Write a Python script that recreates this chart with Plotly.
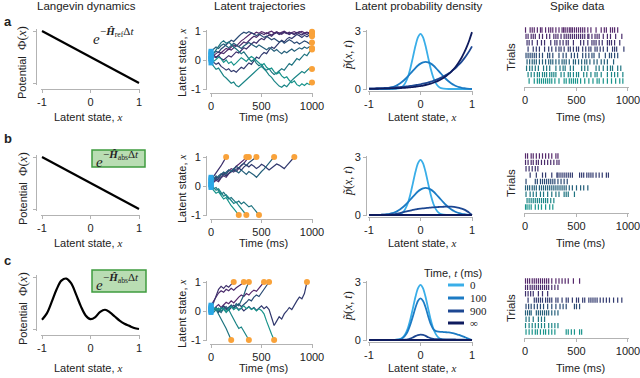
import plotly.graph_objects as go

W, H = 640, 378
ROW_OFF = [0, 126, 251]

# ---------------- data ----------------
TRAJ_DT = 25  # ms between trajectory samples

TRAJ_REF = [
    [0.20, 0.15, 0.22, 0.28, 0.25, 0.33, 0.40, 0.36, 0.45, 0.52,
     0.48, 0.58, 0.66, 0.72, 0.80, 0.86, 0.93, 0.90, 0.96, 0.92,
     0.98, 0.95, 0.90, 0.96, 0.99, 0.93, 0.97, 0.92, 0.96, 0.99,
     0.94, 0.90, 0.95, 0.98, 0.93, 0.97, 0.99, 0.94, 0.96, 0.92, 0.97],
    [0.05, 0.12, 0.08, 0.18, 0.25, 0.22, 0.30, 0.38, 0.34, 0.42,
     0.50, 0.46, 0.55, 0.62, 0.58, 0.68, 0.75, 0.82, 0.78, 0.86,
     0.92, 0.88, 0.94, 0.90, 0.86, 0.92, 0.97, 0.93, 0.89, 0.95,
     0.91, 0.96, 0.92, 0.88, 0.94, 0.98, 0.93, 0.90, 0.95, 0.92, 0.95],
    [0.25, 0.18, 0.10, 0.15, 0.05, 0.00, 0.08, 0.15, 0.10, 0.20,
     0.28, 0.24, 0.35, 0.42, 0.38, 0.48, 0.55, 0.62, 0.58, 0.68,
     0.74, 0.70, 0.80, 0.86, 0.82, 0.90, 0.94, 0.88, 0.92, 0.97,
     0.92, 0.88, 0.93, 0.89, 0.95, 0.91, 0.86, 0.92, 0.88, 0.93, 0.90],
    [0.00, -0.08, -0.15, -0.10, -0.22, -0.28, -0.35, -0.30, -0.40, -0.36,
     -0.42, -0.33, -0.25, -0.30, -0.18, -0.10, -0.15, 0.00, 0.10, 0.05,
     0.18, 0.26, 0.22, 0.35, 0.45, 0.40, 0.52, 0.60, 0.68, 0.62,
     0.72, 0.78, 0.74, 0.82, 0.88, 0.84, 0.78, 0.85, 0.80, 0.86, 0.82],
    [0.15, 0.22, 0.30, 0.26, 0.38, 0.45, 0.52, 0.60, 0.68, 0.64,
     0.75, 0.82, 0.90, 0.96, 0.92, 0.98, 0.94, 0.88, 0.84, 0.90,
     0.85, 0.78, 0.82, 0.76, 0.70, 0.74, 0.68, 0.62, 0.66, 0.58,
     0.64, 0.70, 0.65, 0.58, 0.62, 0.55, 0.60, 0.66, 0.62, 0.56, 0.60],
    [0.30, 0.38, 0.45, 0.40, 0.50, 0.55, 0.48, 0.42, 0.50, 0.58,
     0.52, 0.46, 0.40, 0.48, 0.55, 0.60, 0.54, 0.50, 0.44, 0.52,
     0.46, 0.40, 0.35, 0.42, 0.38, 0.30, 0.36, 0.28, 0.22, 0.30,
     0.25, 0.32, 0.38, 0.30, 0.35, 0.42, 0.38, 0.45, 0.40, 0.46, 0.41],
    [0.10, 0.22, 0.35, 0.48, 0.60, 0.66, 0.58, 0.62, 0.52, 0.45,
     0.38, 0.30, 0.22, 0.28, 0.15, 0.05, -0.05, 0.02, -0.12, -0.20,
     -0.15, -0.28, -0.35, -0.30, -0.42, -0.50, -0.45, -0.38, -0.30, -0.35,
     -0.22, -0.12, -0.18, -0.05, 0.05, 0.00, 0.12, 0.20, 0.15, 0.28, 0.36],
    [-0.10, -0.20, -0.32, -0.28, -0.42, -0.55, -0.62, -0.70, -0.80, -0.76,
     -0.88, -0.92, -0.84, -0.75, -0.68, -0.58, -0.50, -0.42, -0.35, -0.28,
     -0.22, -0.30, -0.40, -0.52, -0.60, -0.72, -0.80, -0.90, -0.94, -0.86,
     -0.92, -0.80, -0.70, -0.62, -0.55, -0.48, -0.40, -0.45, -0.36, -0.28, -0.31],
    [0.05, -0.05, 0.02, 0.10, 0.04, -0.08, 0.00, -0.12, -0.06, -0.18,
     -0.10, 0.00, 0.08, 0.02, -0.05, 0.05, 0.12, 0.06, -0.02, -0.10,
     -0.18, -0.12, -0.25, -0.32, -0.28, -0.40, -0.48, -0.42, -0.55, -0.62,
     -0.58, -0.70, -0.78, -0.72, -0.85, -0.90, -0.82, -0.88, -0.80, -0.85, -0.78],
]

TRAJ_ABS_LIN = [
    [0.15, 0.22, 0.30, 0.26, 0.38, 0.45, 0.40, 0.52, 0.60, 0.56, 0.68, 0.75, 0.82, 0.90, 1.0],
    [0.05, 0.12, 0.20, 0.15, 0.28, 0.35, 0.30, 0.42, 0.48, 0.55, 0.50, 0.62, 0.70, 0.78, 0.88, 1.0],
    [0.20, 0.32, 0.45, 0.58, 0.70, 0.85, 1.0],
    [0.10, 0.18, 0.25, 0.20, 0.32, 0.40, 0.35, 0.45, 0.52, 0.48,
     0.58, 0.62, 0.55, 0.65, 0.72, 0.66, 0.74, 0.68, 0.60, 0.66,
     0.75, 0.70, 0.64, 0.55, 0.62, 0.70, 0.76, 0.72, 0.65, 0.60,
     0.70, 0.80, 0.90, 1.0],
    [0.25, 0.30, 0.22, 0.35, 0.42, 0.38, 0.48, 0.55, 0.50, 0.60,
     0.68, 0.62, 0.72, 0.78, 0.70, 0.80, 0.86, 0.92, 1.0],
    [0.30, 0.22, 0.35, 0.28, 0.40, 0.48, 0.42, 0.55, 0.50, 0.60,
     0.52, 0.45, 0.55, 0.48, 0.40, 0.50, 0.45, 0.38, 0.30, 0.42,
     0.50, 0.58, 0.70, 0.80, 0.90, 1.0],
    [0.00, -0.10, -0.05, -0.18, -0.28, -0.22, -0.35, -0.45, -0.40, -0.50,
     -0.58, -0.52, -0.62, -0.55, -0.65, -0.72, -0.68, -0.80, -0.88, -1.0],
    [0.05, -0.05, -0.15, -0.10, -0.25, -0.35, -0.30, -0.42, -0.50, -0.60,
     -0.55, -0.68, -0.78, -0.88, -1.0],
    [-0.05, -0.15, -0.25, -0.20, -0.35, -0.45, -0.40, -0.55, -0.68, -0.78, -0.90, -1.0],
]

TRAJ_ABS_WELL = [
    [0.10, 0.05, 0.15, 0.22, 0.12, 0.20, 0.30, 0.25, 0.35, 0.28,
     0.40, 0.48, 0.55, 0.50, 0.60, 0.55, 0.65, 0.72, 0.68, 0.80, 0.90, 1.0],
    [0.20, 0.35, 0.50, 0.62, 0.70, 0.65, 0.75, 0.70, 0.78, 0.72, 0.80, 0.85, 0.92, 1.0],
    [0.05, 0.30, 0.55, 0.75, 0.85, 0.78, 0.88, 0.82, 0.92, 1.0],
    [0.15, 0.05, 0.12, 0.00, 0.08, 0.18, 0.10, 0.02, 0.12, 0.20,
     0.14, 0.05, 0.10, 0.00, 0.08, 0.15, 0.06, 0.12, 0.02, 0.10,
     0.18, 0.08, 0.15, 0.05, -0.20, -0.50, -0.35, -0.20, -0.28, -0.10,
     0.00, 0.12, 0.05, 0.22, 0.35, 0.48, 0.42, 0.60, 1.0],
    [0.00, 0.10, 0.05, -0.05, 0.08, 0.15, 0.05, 0.12, 0.20, 0.10,
     0.18, 0.25, 0.15, 0.22, 0.30, 0.40, 0.35, 0.48, 0.55, 0.50,
     0.62, 0.75, 0.88, 1.0],
    [0.10, 0.02, 0.12, 0.05, -0.05, 0.08, 0.15, 0.05, 0.20, 0.10,
     0.25, 0.18, 0.35, 0.55, 0.80, 1.0],
    [0.00, -0.05, 0.05, -0.10, -0.25, -0.45, -0.60, -0.80, -1.0],
    [0.05, 0.12, 0.02, 0.10, 0.00, 0.08, -0.05, 0.05, -0.12, -0.30,
     -0.45, -0.60, -0.55, -0.70, -0.85, -1.0],
    [-0.05, 0.05, 0.10, 0.02, 0.12, 0.05, -0.02, 0.08, 0.15, 0.05,
     0.12, 0.02, 0.10, 0.18, 0.08, 0.14, 0.05, 0.10, 0.00, 0.08,
     0.02, -0.10, -0.35, -0.60, -0.80, -1.0],
]

SPIKES_REF = [
    [5, 50, 70, 90, 120, 150, 165, 200, 230, 250, 270, 300, 330, 360, 375, 390, 410, 430,
     445, 460, 480, 500, 520, 540, 560, 580, 610, 640, 690, 740, 770, 790, 830, 850, 870, 900],
    [10, 30, 60, 80, 100, 140, 170, 210, 240, 280, 300, 320, 350, 380, 400, 420, 440, 460,
     480, 500, 520, 540, 560, 580, 610, 620, 650, 680, 700, 720, 760, 800, 830, 880, 940],
    [20, 40, 70, 120, 160, 190, 250, 290, 310, 340, 370, 400, 420, 470, 540, 570, 610, 650,
     670, 690, 720, 750, 800, 820, 840, 870, 920],
    [30, 80, 110, 140, 190, 230, 260, 300, 330, 350, 380, 420, 440, 470, 500, 520, 560, 590,
     620, 640, 680, 700, 730, 760, 800, 850, 870, 890, 960],
    [10, 30, 50, 70, 90, 110, 140, 170, 220, 240, 270, 330, 370, 400, 450, 480, 510, 560,
     590, 620, 650, 670, 720, 780, 820, 840, 870, 900],
    [20, 45, 70, 90, 110, 140, 170, 200, 230, 250, 270, 300, 330, 360, 380, 400, 430, 470,
     490, 520, 550, 580, 600, 630, 670, 700, 740, 770, 800, 860],
    [15, 45, 70, 100, 130, 180, 210, 240, 300, 340, 370, 390, 440, 470, 550, 580, 610, 690,
     720, 760, 800, 830, 850, 900, 930],
    [30, 60, 90, 120, 140, 170, 190, 210, 240, 260, 280, 300, 350, 380, 420, 440, 470, 500,
     520, 570, 600, 640, 680, 700, 740, 800, 840, 870, 900, 950],
    [40, 90, 120, 140, 160, 180, 200, 220, 240, 260, 290, 330, 380, 400, 430, 450, 470, 490,
     510, 540, 580, 620, 660, 700, 720, 760, 800, 840, 880, 920, 950],
]

SPIKES_ABS_LIN = [
    [5, 25, 60, 80, 110, 140, 170, 200, 230, 260, 300, 320],
    [5, 30, 60, 80, 110, 130, 160, 190, 220, 250, 280, 310, 330],
    [10, 40, 70, 100, 125],
    [50, 110, 170, 200, 260, 310, 320, 340, 360, 380, 400, 420, 440, 460, 530, 550, 570,
     600, 620, 640, 660, 690, 720, 750, 790, 810],
    [10, 100, 120, 150, 170, 190, 210, 230, 250, 270, 290, 320, 350, 380, 410],
    [5, 25, 45, 70, 90, 110, 140, 160, 180, 200, 220, 240, 260, 280, 300, 320, 340, 360,
     380, 400, 430, 460, 500, 540, 570, 610],
    [10, 50, 80, 110, 150, 180, 220, 260, 300, 330, 380, 400, 420, 480],
    [20, 40, 60, 80, 100, 120, 140, 160, 180, 200, 220, 250, 280],
    [5, 20, 40, 60, 100, 130, 160, 200, 240, 270],
]

SPIKES_ABS_WELL = [
    [5, 25, 45, 70, 90, 110, 130, 150, 170, 190, 210, 230, 260, 300, 330, 360, 390, 420, 470, 530],
    [5, 25, 50, 70, 90, 110, 130, 150, 170, 190, 210, 230, 260, 290, 320],
    [5, 30, 55, 80, 130, 170, 220],
    [30, 90, 110, 130, 150, 170, 200, 220, 240, 260, 300, 320, 360, 400, 420, 460, 500, 520,
     560, 580, 620, 640, 660, 680, 700, 730, 760, 790, 820, 860, 900, 940],
    [10, 35, 60, 90, 120, 150, 180, 220, 260, 300, 340, 370, 400, 480, 500, 530],
    [5, 25, 45, 60, 110, 130, 150, 170, 190, 210, 230, 260, 290, 320],
    [10, 40, 80, 130, 160, 190],
    [5, 40, 70, 100, 130, 160, 190, 230, 260, 290, 320],
    [10, 40, 70, 100, 120, 150, 180, 200, 230, 260, 290, 400, 420, 450, 480, 530, 550],
]

DENS_X = [-1.0, -0.95, -0.9, -0.85, -0.8, -0.75, -0.7, -0.65, -0.6, -0.55,
          -0.5, -0.45, -0.4, -0.35, -0.3, -0.25, -0.2, -0.15, -0.1, -0.05,
          0.0, 0.05, 0.1, 0.15, 0.2, 0.25, 0.3, 0.35, 0.4, 0.45,
          0.5, 0.55, 0.6, 0.65, 0.7, 0.75, 0.8, 0.85, 0.9, 0.95, 1.0]
DENS_T0 = [0, 0, 0, 0, 0, 0, 0, 0, 0, 0,
           0.005, 0.016, 0.048, 0.125, 0.29, 0.58, 1.03, 1.61, 2.21, 2.67,
           2.85, 2.67, 2.21, 1.61, 1.03, 0.58, 0.29, 0.125, 0.048, 0.016,
           0.005, 0, 0, 0, 0, 0, 0, 0, 0, 0, 0]
DENS_T100 = [0.001, 0.001, 0.002, 0.004, 0.008, 0.014, 0.024, 0.039, 0.062, 0.095,
             0.14, 0.203, 0.284, 0.385, 0.505, 0.641, 0.789, 0.94, 1.085, 1.213,
             1.313, 1.378, 1.40, 1.378, 1.313, 1.213, 1.085, 0.94, 0.789, 0.641,
             0.505, 0.385, 0.284, 0.203, 0.14, 0.095, 0.062, 0.039, 0.022, 0.01, 0.0]
DENS_T900_REF = [0.027, 0.030, 0.034, 0.038, 0.042, 0.047, 0.052, 0.058, 0.065, 0.073,
                 0.081, 0.091, 0.101, 0.113, 0.126, 0.141, 0.157, 0.175, 0.196, 0.219,
                 0.244, 0.272, 0.304, 0.339, 0.379, 0.423, 0.472, 0.527, 0.588, 0.657,
                 0.733, 0.818, 0.913, 1.019, 1.138, 1.270, 1.418, 1.583, 1.767, 1.972, 2.203]
DENS_INF_REF = [0.008, 0.009, 0.011, 0.013, 0.015, 0.017, 0.020, 0.023, 0.026, 0.030,
                0.035, 0.041, 0.047, 0.055, 0.064, 0.074, 0.085, 0.099, 0.115, 0.133,
                0.154, 0.178, 0.207, 0.240, 0.278, 0.322, 0.373, 0.433, 0.501, 0.581,
                0.673, 0.780, 0.904, 1.047, 1.214, 1.407, 1.631, 1.890, 2.190, 2.538, 2.941]
DENS_T900_LIN = [0, 0.002, 0.004, 0.006, 0.009, 0.012, 0.016, 0.021, 0.028, 0.038,
                 0.05, 0.072, 0.1, 0.135, 0.17, 0.2, 0.23, 0.26, 0.29, 0.31,
                 0.33, 0.345, 0.36, 0.373, 0.385, 0.395, 0.405, 0.413, 0.42, 0.426,
                 0.43, 0.432, 0.43, 0.42, 0.40, 0.37, 0.33, 0.275, 0.2, 0.11, 0]
DENS_T100_WELL = [0, 0, 0, 0, 0, 0, 0, 0, 0, 0.002,
                  0.005, 0.012, 0.03, 0.09, 0.22, 0.44, 0.78, 1.2, 1.66, 2.02,
                  2.15, 2.02, 1.68, 1.22, 0.82, 0.56, 0.46, 0.43, 0.42, 0.41,
                  0.40, 0.39, 0.37, 0.34, 0.30, 0.26, 0.21, 0.16, 0.10, 0.05, 0]
DENS_T900_WELL = [0, 0, 0, 0, 0, 0, 0, 0, 0, 0,
                  0, 0.001, 0.003, 0.006, 0.012, 0.03, 0.07, 0.13, 0.2, 0.255,
                  0.28, 0.26, 0.21, 0.14, 0.09, 0.06, 0.045, 0.04, 0.038, 0.036,
                  0.034, 0.032, 0.03, 0.027, 0.024, 0.02, 0.016, 0.012, 0.008, 0.004, 0]
FLAT_X = [-1.0, 1.0]
FLAT_ZERO = [0.0, 0.0]

POT_LIN_X = [-1.0, 1.0]
POT_LIN_Y = [1.0, 0.0]
POT_WELL_X = [-1.0, -0.9, -0.8, -0.7, -0.6, -0.5, -0.4, -0.3, -0.2, -0.1, 0.0,
              0.1, 0.2, 0.3, 0.4, 0.5, 0.6, 0.7, 0.8, 0.9, 1.0]
POT_WELL_Y = [0.18, 0.30, 0.52, 0.76, 0.93, 0.97, 0.88, 0.67, 0.44, 0.26, 0.19,
              0.23, 0.33, 0.37, 0.32, 0.24, 0.16, 0.10, 0.06, 0.02, 0.0]

LEGEND_LABELS = ["0", "100", "900", "∞"]

# ---------------- style ----------------
INK = "#222222"
AXIS = "#b3b3b3"
SANS = "Liberation Sans, Arial, sans-serif"
SERIF = "Liberation Serif, Times New Roman, serif"
TRAJ_COLORS = ["#55286b", "#4a2b6b", "#3d306c", "#31396e", "#2a4a74",
               "#245f7a", "#1f7480", "#1b8586", "#19948b"]
DENS_COLORS = ["#3aaee8", "#1c7bc4", "#1d4792", "#0e1b5e"]
START = "#2aa7e6"
END = "#f9a23a"

fig = go.Figure()
axes = {}
notes = []
shapes = []


def px_range(v0, p0, v1, p1, lo, hi):
    k = (p1 - p0) / (v1 - v0)
    return p0 + (lo - v0) * k, p0 + (hi - v0) * k


def set_axes(n, xcal, xr, ycal, yr, xline_y, yline_x, xt, yt, yline=True):
    a, b = px_range(*xcal, *xr)
    c, d = px_range(*ycal, *yr)
    xk = "xaxis" if n == 1 else f"xaxis{n}"
    yk = "yaxis" if n == 1 else f"yaxis{n}"
    base = dict(showgrid=False, zeroline=False, fixedrange=True, automargin=False,
                linecolor=AXIS, linewidth=1, tickcolor=AXIS, ticklen=3,
                ticklabeloverflow="allow",
                tickfont=dict(family=SANS, size=11, color=INK))
    axes[xk] = dict(base, domain=[a / W, b / W], range=xr, anchor="free",
                    position=1 - xline_y / H, showline=True, ticks="outside",
                    tickvals=xt[0], ticktext=xt[1], showticklabels=xt[1] is not None)
    ydom = sorted([1 - c / H, 1 - d / H])
    if yline:
        axes[yk] = dict(base, domain=ydom, range=yr, anchor="free",
                        position=yline_x / W, showline=True, ticks="outside",
                        tickvals=yt[0], ticktext=yt[1], showticklabels=yt[1] is not None)
    else:
        axes[yk] = dict(base, domain=ydom, range=yr, anchor="free",
                        position=yline_x / W, showline=False, ticks="",
                        showticklabels=False)


def note(text, x, y, size=11, angle=0, xanchor="center", family=SANS, **kw):
    notes.append(dict(text=text, x=x / W, y=1 - y / H, xref="paper", yref="paper",
                      showarrow=False, xanchor=xanchor, yanchor="middle", textangle=angle,
                      font=dict(family=family, size=size, color=INK), **kw))


def box(x0, y0, x1, y1):
    shapes.append(dict(type="rect", xref="paper", yref="paper", x0=x0 / W, x1=x1 / W,
                       y0=1 - y1 / H, y1=1 - y0 / H, fillcolor="#b9ddb3",
                       line=dict(color="#3f9c3f", width=1.5), layer="below"))


def propagator(sub, x, y):
    note("<i>e</i>", x, y + 3, size=15, family=SERIF, xanchor="left")
    note(f"−<b><i>Ĥ</i></b><sub>{sub}</sub>Δ<i>t</i>", x + 7, y - 4, size=11,
         family=SERIF, xanchor="left")


def ax_names(n):
    return ("x" if n == 1 else f"x{n}"), ("y" if n == 1 else f"y{n}")


MX = "<span style='font-family:Liberation Serif'><i>x</i></span>"
XT_PM1 = ([-1, 0, 1], ["-1", "0", "1"])
XT_TIME = ([0, 500, 1000], ["0", "500", "1000"])

potentials = [(POT_LIN_X, POT_LIN_Y, "linear"), (POT_LIN_X, POT_LIN_Y, "linear"),
              (POT_WELL_X, POT_WELL_Y, "spline")]
trajectories = [TRAJ_REF, TRAJ_ABS_LIN, TRAJ_ABS_WELL]
rasters = [SPIKES_REF, SPIKES_ABS_LIN, SPIKES_ABS_WELL]
densities = [
    [(DENS_X, DENS_T0), (DENS_X, DENS_T100), (DENS_X, DENS_T900_REF), (DENS_X, DENS_INF_REF)],
    [(DENS_X, DENS_T0), (DENS_X, DENS_T100), (DENS_X, DENS_T900_LIN), (FLAT_X, FLAT_ZERO)],
    [(DENS_X, DENS_T0), (DENS_X, DENS_T100_WELL), (DENS_X, DENS_T900_WELL), (FLAT_X, FLAT_ZERO)],
]

for r in range(3):
    o = ROW_OFF[r]
    # --- column 1: potential ---
    n = r * 4 + 1
    o1 = o - 5 if r == 2 else o
    set_axes(n, (-1, 42, 1, 139), [-1.02, 1.02], (0, 83 + o1, 1, 31 + o1), [-0.03, 1.03],
             89 + o1, 36, XT_PM1, ([0, 1], None))
    xa, ya = ax_names(n)
    px_, py_, shp = potentials[r]
    fig.add_trace(go.Scatter(x=px_, y=py_, mode="lines", xaxis=xa, yaxis=ya,
                             line=dict(color="black", width=2.2, shape=shp)))
    note("Potential  <span style='font-family:Liberation Serif;font-size:13px'>Φ(<i>x</i>)</span>",
         22, 63 + o1, size=11, angle=-90)
    note(f"Latent state, {MX}", 88, 117 + o, size=11)

    # --- column 2: trajectories ---
    n = r * 4 + 2
    set_axes(n, (0, 211, 1000, 312), [-8, 1008], (-1, 89 + o, 1, 31 + o), [-1.05, 1.05],
             93 + o, 206, XT_TIME, ([-1, 0, 1], ["-1", "0", "1"]))
    xa, ya = ax_names(n)
    for k, vals in enumerate(trajectories[r]):
        ts = [i * TRAJ_DT for i in range(len(vals))]
        fig.add_trace(go.Scatter(x=ts, y=vals, mode="lines", xaxis=xa, yaxis=ya,
                                 line=dict(color=TRAJ_COLORS[k], width=1.2)))
    ends_t = [(len(v) - 1) * TRAJ_DT for v in trajectories[r]]
    ends_v = [v[-1] for v in trajectories[r]]
    fig.add_trace(go.Scatter(x=ends_t, y=ends_v, mode="markers", xaxis=xa, yaxis=ya,
                             cliponaxis=False, marker=dict(color=END, size=6)))
    fig.add_trace(go.Scatter(x=[0] * len(trajectories[r]), y=[v[0] for v in trajectories[r]],
                             mode="markers", xaxis=xa, yaxis=ya, cliponaxis=False,
                             marker=dict(color=START, size=5, symbol="square")))
    note(f"Latent state, {MX}", 182, 63 + o, size=11, angle=-90)
    note("Time (ms)", 263, 117 + o, size=11)

    # --- column 3: densities ---
    n = r * 4 + 3
    set_axes(n, (-1, 369, 1, 472), [-1.02, 1.02], (0, 89 + o, 3, 31 + o), [-0.06, 3.06],
             91 + o, 366, XT_PM1, ([0, 3], ["0", "3"]))
    xa, ya = ax_names(n)
    for k, (dx, dy) in enumerate(densities[r]):
        fig.add_trace(go.Scatter(x=dx, y=dy, mode="lines", xaxis=xa, yaxis=ya,
                                 line=dict(color=DENS_COLORS[k], width=1.8,
                                           shape="spline", smoothing=0.6)))
    note("<span style='font-family:Liberation Serif'><i>p̃</i>(<i>x</i>, <i>t</i>)</span>",
         348, 55 + o, size=12, angle=-90)
    note(f"Latent state, {MX}", 422, 117 + o, size=11)

    # --- column 4: spike raster ---
    n = r * 4 + 4
    set_axes(n, (0, 525, 1000, 628), [-8, 1008], (1, 30 + o, 9, 81 + o), [9.6, 0.4],
             87 + o, 520, XT_TIME, (None, None), yline=False)
    xa, ya = ax_names(n)
    for k, times in enumerate(rasters[r]):
        fig.add_trace(go.Scatter(x=times, y=[k + 1] * len(times), mode="markers",
                                 xaxis=xa, yaxis=ya,
                                 marker=dict(symbol="line-ns", size=3.8,
                                             line=dict(color=TRAJ_COLORS[k], width=1.2))))
    note("Trials", 511, 57 + o, size=11.5, angle=-90)
    note("Time (ms)", 580, 117 + o, size=11)

# column titles
for text, x in [("Langevin dynamics", 86), ("Latent trajectories", 260),
                ("Latent probability density", 418), ("Spike data", 577)]:
    note(text, x, 6, size=11.5)

# panel letters
for letter, y in [("a", 22), ("b", 138), ("c", 260)]:
    note(f"<b>{letter}</b>", 2, y, size=13, xanchor="left")

# propagator labels
propagator("ref", 91, 36)
box(92, 150, 145, 167)
propagator("abs", 94, 159)
box(92, 270, 146, 292)
propagator("abs", 94, 282)

# legend for the density panels (row c)
note("Time, <span style='font-family:Liberation Serif'><i>t</i></span> (ms)", 453, 273, size=11)
for k, (lab, y) in enumerate(zip(LEGEND_LABELS, [285, 298, 311, 323])):
    shapes.append(dict(type="line", xref="paper", yref="paper", x0=448 / W, x1=464 / W,
                       y0=1 - y / H, y1=1 - y / H, line=dict(color=DENS_COLORS[k], width=3)))
    note(lab, 468, y, size=11, xanchor="left", family=SERIF)

fig.update_layout(
    width=W, height=H, margin=dict(l=0, r=0, t=0, b=0, autoexpand=False),
    paper_bgcolor="white", plot_bgcolor="white", showlegend=False,
    annotations=notes, shapes=shapes, **axes,
)

fig.write_html("out.html", config={"responsive": False, "displayModeBar": False},
               post_script="document.body.style.margin='0px';")
